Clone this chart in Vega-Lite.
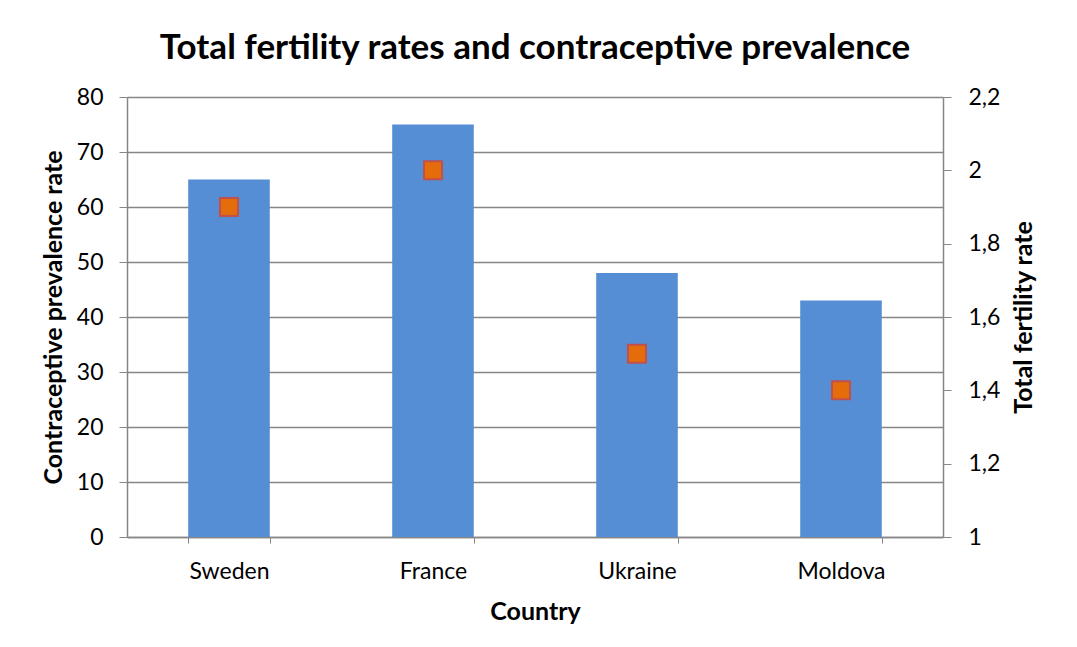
{
  "$schema": "https://vega.github.io/schema/vega-lite/v6.json",
  "width": 816,
  "height": 440,
  "autosize": {"type": "none"},
  "padding": {"left": 127, "top": 97, "right": 134, "bottom": 110},
  "background": "white",
  "config": {
    "font": "Lato",
    "view": {"stroke": null},
    "axis": {
      "domainColor": "#868686",
      "tickColor": "#868686",
      "gridColor": "#868686",
      "labelColor": "black",
      "titleColor": "black",
      "labelFont": "Lato",
      "titleFont": "Lato",
      "labelFontSize": 23,
      "titleFontSize": 25,
      "titleFontWeight": "bold"
    }
  },
  "title": {
    "text": "Total fertility rates and contraceptive prevalence",
    "fontSize": 35,
    "fontWeight": "bold",
    "font": "Lato",
    "color": "black",
    "anchor": "middle",
    "offset": 20
  },
  "data": {
    "values": [
      {"country": "Sweden", "cpr": 65, "tfr": 1.9},
      {"country": "France", "cpr": 75, "tfr": 2.0},
      {"country": "Ukraine", "cpr": 48, "tfr": 1.5},
      {"country": "Moldova", "cpr": 43, "tfr": 1.4}
    ]
  },
  "encoding": {
    "x": {
      "field": "country",
      "type": "nominal",
      "sort": null,
      "scale": {"paddingInner": 0.6, "paddingOuter": 0.3},
      "axis": {
        "title": "Country",
        "labelAngle": 0,
        "tickBand": "extent",
        "tickSize": 6,
        "labelPadding": 17,
        "titlePadding": 16,
        "domainWidth": 1.5
      }
    }
  },
  "layer": [
    {
      "mark": {"type": "bar", "color": "#558ED5"},
      "encoding": {
        "y": {
          "field": "cpr",
          "type": "quantitative",
          "scale": {"domain": [0, 80]},
          "axis": {
            "title": "Contraceptive prevalence rate",
            "values": [0, 10, 20, 30, 40, 50, 60, 70, 80],
            "grid": true,
            "gridWidth": 1.5,
            "domainWidth": 1.5,
            "tickSize": 8,
            "labelPadding": 16,
            "titlePadding": 10
          }
        }
      }
    },
    {
      "mark": {"type": "point", "shape": "square", "filled": true, "size": 324, "fill": "#E46C0A", "stroke": "#C0504D", "strokeWidth": 2, "opacity": 1},
      "encoding": {
        "y": {
          "field": "tfr",
          "type": "quantitative",
          "scale": {"domain": [1, 2.2], "zero": false},
          "axis": {
            "orient": "right",
            "title": "Total fertility rate",
            "values": [1, 1.2, 1.4, 1.6, 1.8, 2, 2.2],
            "labelExpr": "replace(format(datum.value, '~g'), '.', ',')",
            "grid": false,
            "domainWidth": 1.5,
            "tickSize": 8,
            "labelPadding": 17,
            "titlePadding": 12,
            "titleAngle": 270,
            "titleBaseline": "top"
          }
        }
      }
    }
  ],
  "resolve": {"scale": {"y": "independent"}}
}
